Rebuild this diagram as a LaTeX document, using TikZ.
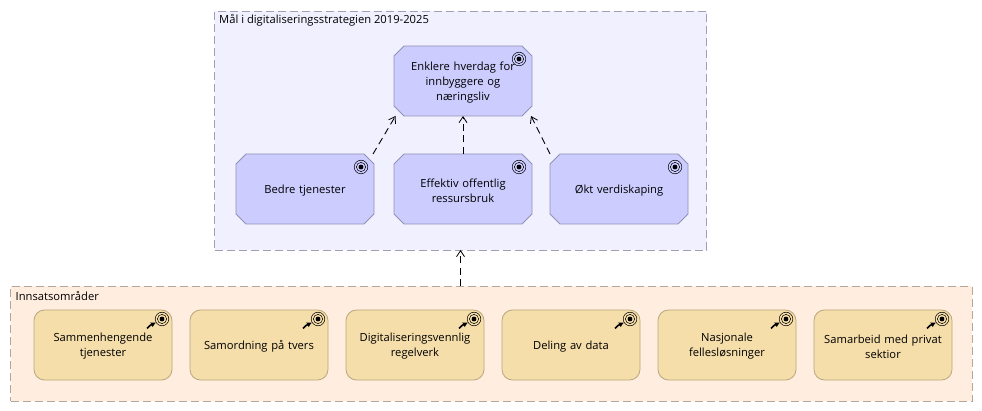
\documentclass[tikz,border=0pt]{standalone}
\usepackage{fontspec}
\setmainfont{Open Sans}
\usetikzlibrary{arrows.meta,calc}
\definecolor{gaFill}{HTML}{F0F0FF}
\definecolor{gaLine}{HTML}{A09FB4}
\definecolor{gbFill}{HTML}{FFEEDF}
\definecolor{gbLine}{HTML}{B5A698}
\definecolor{goalFill}{HTML}{CCCCFF}
\definecolor{goalLine}{HTML}{9392B5}
\definecolor{outFill}{HTML}{F5DEAA}
\definecolor{outLine}{HTML}{B9A77F}
\tikzset{
  x=1pt,y=1pt,
  grp/.style={rectangle,anchor=north west,inner sep=0pt,outer sep=0pt,line width=0.9pt,dash pattern=on 8pt off 4pt},
  grplabel/.style={anchor=west,inner sep=0pt,font=\fontsize{11.2}{13}\selectfont,text=black},
  boxframe/.style={rectangle,minimum width=138pt,minimum height=70pt,inner sep=0pt,outer sep=0pt},
  goalshape/.style={draw=goalLine,fill=goalFill,line width=0.8pt,line join=miter},
  outbox/.style={boxframe,rounded corners=10.5pt,draw=outLine,fill=outFill,line width=0.8pt},
  boxtext/.style={inner sep=0pt,align=center,text width=125pt,yshift=-1.5pt,font=\fontsize{11.2}{15}\selectfont,text=black},
  dep/.style={draw=black,line width=0.9pt,dash pattern=on 7pt off 4.5pt,-{Straight Barb[length=6pt,width=8pt,line width=0.8pt]}},
  ring/.style={draw=black,line width=0.5pt,fill=none},
  spot/.style={fill=black,draw=none},
  realarrow/.style={draw=black,line width=1.6pt,-{Latex[length=5pt,width=5.5pt]}},
}
\newcommand{\goalnode}[3]{%
  \node[boxframe] (#1) at (#2) {};
  \draw[goalshape] ($(#1.north west)+(10,0)$) -- ($(#1.north east)+(-10,0)$) -- ($(#1.north east)+(0,-10)$)
     -- ($(#1.south east)+(0,10)$) -- ($(#1.south east)+(-10,0)$) -- ($(#1.south west)+(10,0)$)
     -- ($(#1.south west)+(0,10)$) -- ($(#1.north west)+(0,-10)$) -- cycle;
  \node[boxtext] (#1text) at (#2) {#3};
  \draw[ring] ($(#1.north east)+(-13,-13)$) circle[radius=6.8];
  \draw[ring] ($(#1.north east)+(-13,-13)$) circle[radius=4.6];
  \fill[spot] ($(#1.north east)+(-13,-13)$) circle[radius=2.4];
}
\newcommand{\outnode}[3]{%
  \node[outbox] (#1) at (#2) {};
  \node[boxtext] (#1text) at (#2) {#3};
  \draw[ring] ($(#1.north east)+(-10,-9)$) circle[radius=6.8];
  \draw[ring] ($(#1.north east)+(-10,-9)$) circle[radius=4.6];
  \fill[spot] ($(#1.north east)+(-10,-9)$) circle[radius=2.4];
  \draw[realarrow] ($(#1.north east)+(-25,-18.5)$) -- ($(#1.north east)+(-22,-15.5)$) -- ($(#1.north east)+(-16,-12.5)$);
}
\begin{document}
\begin{tikzpicture}
\useasboundingbox (0,0) rectangle (982,-411);
\node[grp,draw=gaLine,fill=gaFill,minimum width=492pt,minimum height=239pt] (groupA) at (214.5,-11) {};
\node[grp,draw=gbLine,fill=gbFill,minimum width=961.5pt,minimum height=114.5pt] (groupB) at (10.5,-286.5) {};
\node[grplabel] (labelA) at (219,-20) {Mål i digitaliseringsstrategien 2019-2025};
\node[grplabel] (labelB) at (15.5,-296) {Innsatsområder};

\goalnode{enklere}{463,-81}{Enklere hverdag for\\innbyggere og\\næringsliv}
\goalnode{bedre}{305,-189}{Bedre tjenester}
\goalnode{effektiv}{463,-189}{Effektiv offentlig\\ressursbruk}
\goalnode{okt}{619,-189}{Økt verdiskaping}

\outnode{sam}{103,-345}{Sammenhengende\\tjenester}
\outnode{samo}{259,-345}{Samordning på tvers}
\outnode{dig}{415,-345}{Digitaliseringsvennlig\\regelverk}
\outnode{del}{571,-345}{Deling av data}
\outnode{nas}{727,-345}{Nasjonale\\fellesløsninger}
\outnode{pri}{883,-345}{Samarbeid med privat\\sektior}

\draw[dep] ($(bedre.north east)+(-1,0)$) -- ($(enklere.south west)+(1.5,0)$);
\draw[dep] (effektiv.north) -- (enklere.south);
\draw[dep] (okt.north west) -- ($(enklere.south east)+(-1,0)$);
\coordinate (gb) at (groupB.north -| 460.5,0);
\draw[dep] (gb) -- (gb |- groupA.south);
\end{tikzpicture}
\end{document}
